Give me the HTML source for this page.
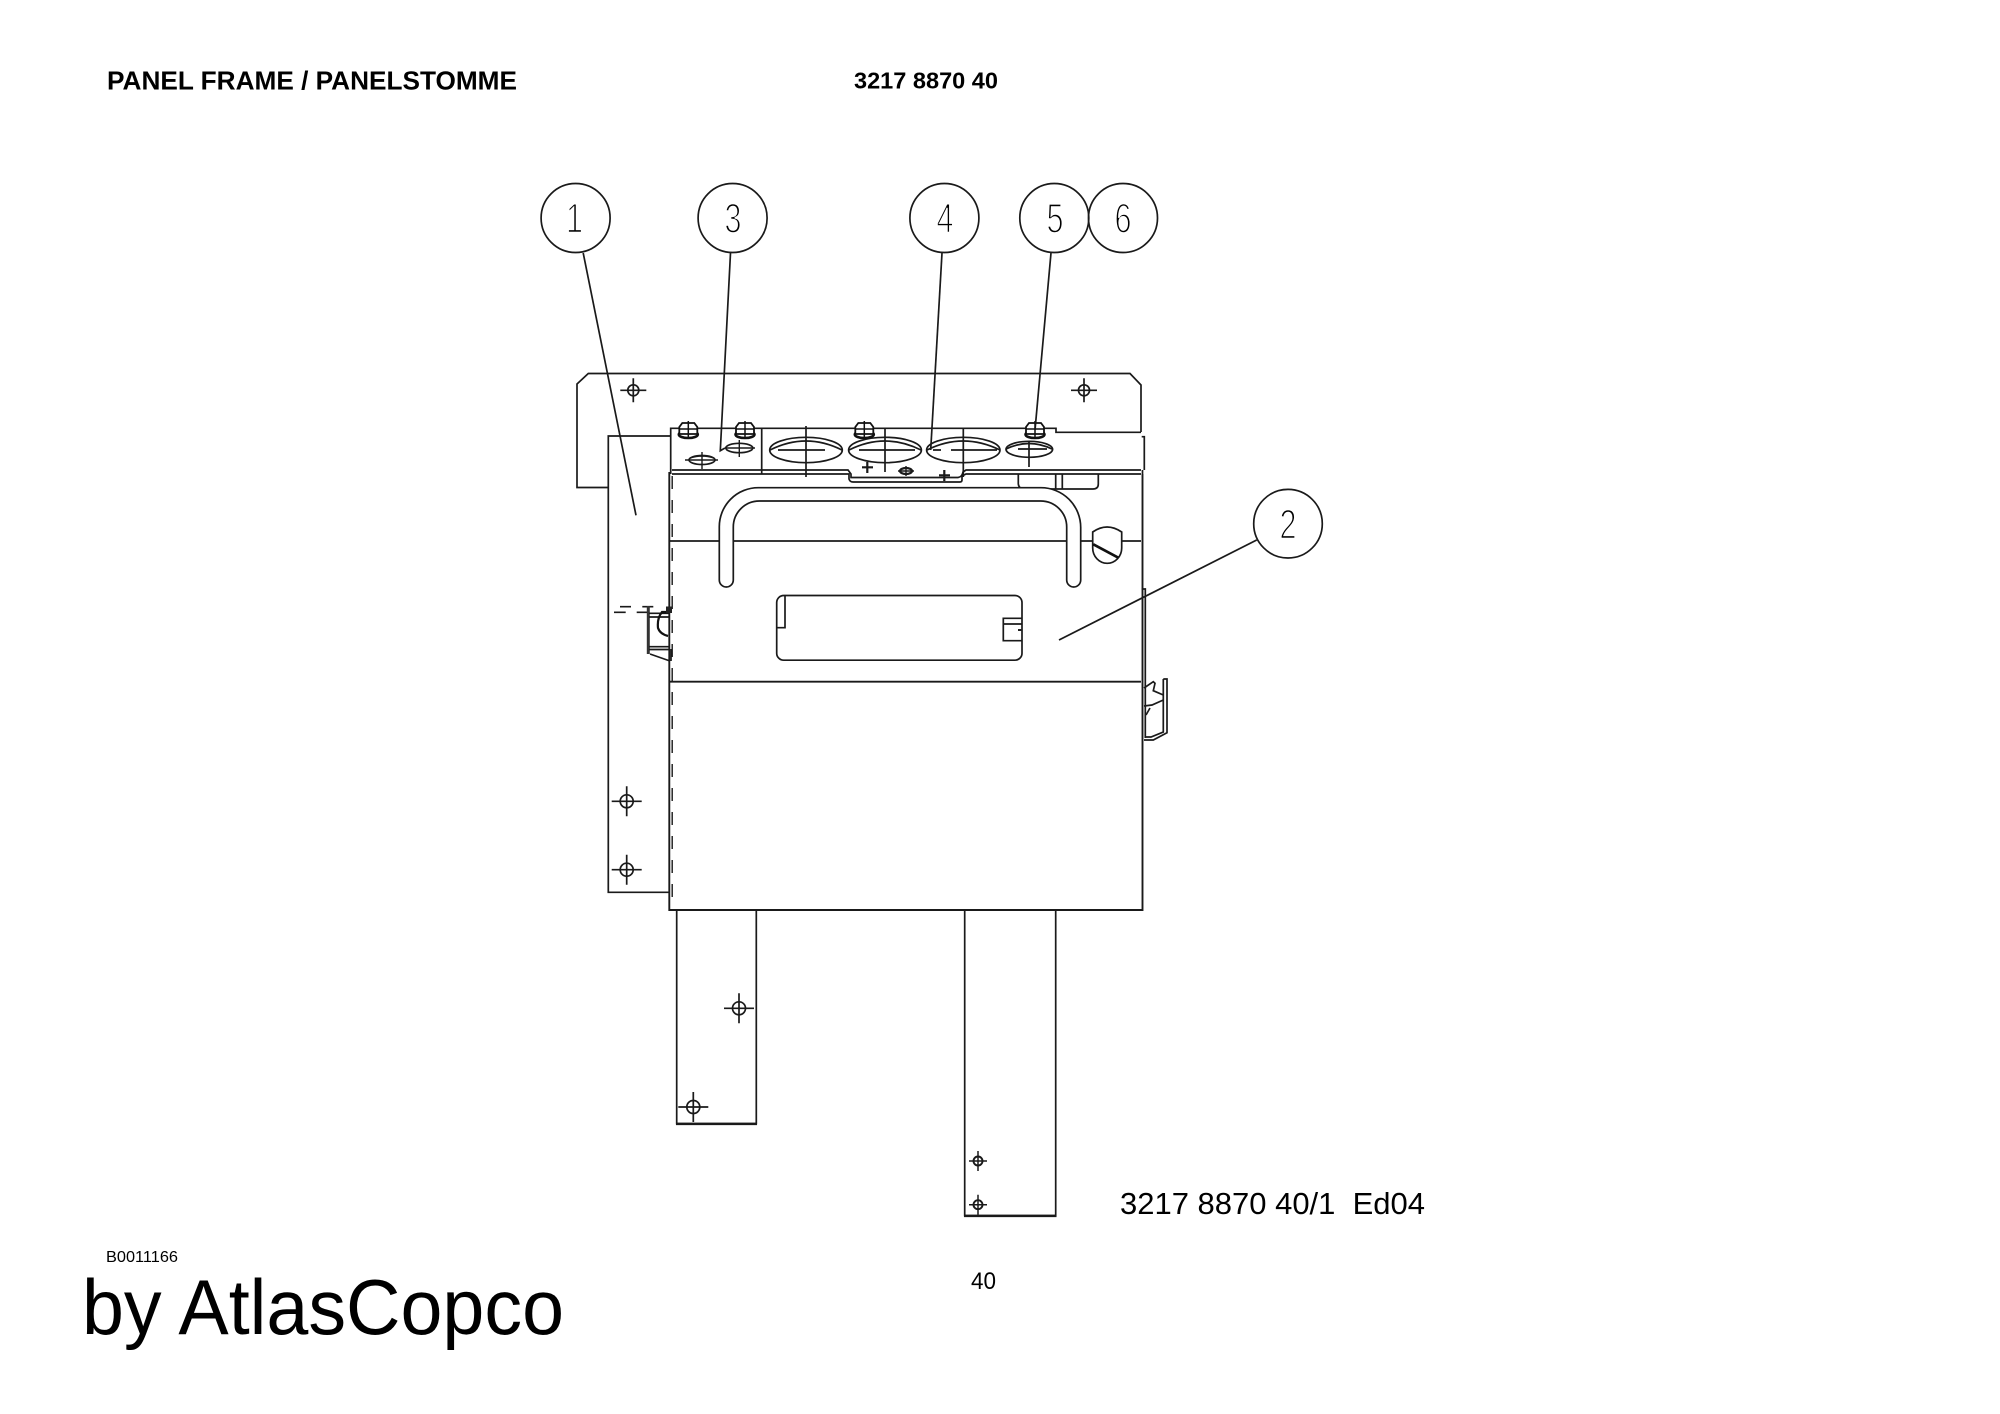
<!DOCTYPE html>
<html lang="en">
<head>
<meta charset="utf-8">
<title>Panel Frame</title>
<style>
html,body{margin:0;padding:0;background:#fff;width:2000px;height:1414px;overflow:hidden}
svg{display:block}
text{font-family:"Liberation Sans",sans-serif;fill:#000}
.l{fill:none;stroke:#1a1a1a;stroke-width:1.7}
.t{fill:none;stroke:#1a1a1a;stroke-width:2.2}
.n{fill:none;stroke:#1a1a1a;stroke-width:1.4}
.d{font-size:42px;stroke:#fff;stroke-width:1.6;text-anchor:middle}
</style>
</head>
<body>
<svg width="2000" height="1414" viewBox="0 0 2000 1414" xmlns="http://www.w3.org/2000/svg">
<defs>
<g id="c1" class="l"><circle r="6.5"/><path d="M-15,0H15M0,-15V15"/></g>
<g id="c2" class="l"><circle r="5.5"/><path d="M-13,0H13M0,-12V12"/></g>
<g id="c3" class="t"><circle r="4.5" stroke-width="1.9"/><path d="M-9,0H9M0,-10V10" stroke-width="1.5"/></g>
<g id="bolt"><ellipse cy="3.5" rx="9.5" ry="3.5" fill="#fff" stroke="#111" stroke-width="2.6"/><path d="M-9,-4L-6,-8H6L9,-4V3H-9Z" fill="#fff" stroke="#111" stroke-width="1.8"/><path d="M-9,-2H9M0,-10V8" stroke="#111" stroke-width="1.5" fill="none"/></g>
</defs>
<rect width="2000" height="1414" fill="#fff"/>

<!-- header text -->
<text x="107" y="89.5" font-size="25.5" font-weight="700" textLength="410" lengthAdjust="spacingAndGlyphs">PANEL FRAME / PANELSTOMME</text>
<text x="854" y="88.5" font-size="23.5" font-weight="700" textLength="144" lengthAdjust="spacingAndGlyphs">3217 8870 40</text>

<!-- back frame -->
<path class="l" d="M608,487.5H577V384L588.3,373.5H1130L1141,385V432"/>
<use href="#c2" x="633.3" y="390.3"/>
<use href="#c2" x="1084" y="390.3"/>

<!-- left bracket -->
<path class="l" d="M671,436H608.3V892.3H669"/>
<use href="#c1" x="626.7" y="801.3"/>
<use href="#c1" x="626.7" y="869.7"/>

<!-- feet -->
<path class="l" d="M676.7,910V1123.5H756.3V910"/>
<path class="t" d="M676,1124H757"/>
<use href="#c1" x="739" y="1008.3"/>
<use href="#c1" x="693.3" y="1107"/>
<path class="l" d="M964.7,910V1215.5H1055.7V910"/>
<path class="t" d="M964,1216H1056.5"/>
<use href="#c3" x="978" y="1161"/>
<use href="#c3" x="978" y="1204.7"/>

<!-- top panel -->
<path class="l" d="M670.7,474V428.3H1056V432.3H1141"/>
<path class="l" d="M761.7,428.3V474"/>
<path class="l" d="M672,470H848L851,474V477.5H958Q962,477 963,472L966,470H1141"/>
<path class="l" d="M672,474H849V479Q850,482 853,482H960Q962,482 962,480V476L966,474H1141"/>
<path class="l" d="M1018.3,474V484Q1019,489 1024,489H1093Q1098.3,489 1098.3,484V474M1055.7,474V489M1062.3,474V489"/>

<!-- small holes -->
<g class="l">
<ellipse cx="702" cy="460" rx="13" ry="4.5"/><path class="n" d="M685,460H718M702,452V469M690,458Q702,454 714,458"/>
<ellipse cx="739.3" cy="448" rx="13.5" ry="4.7"/><path class="n" d="M726,448H755M739.3,440V457"/>
</g>
<!-- large holes -->
<g class="l">
<ellipse cx="806" cy="450" rx="36.3" ry="12.7"/><path d="M770,450Q806,432 842,450M778,450H825"/><path d="M806,426V477"/>
<ellipse cx="885" cy="450" rx="36.4" ry="12.7"/><path d="M849,450Q885,432 921,450M859,450H915"/><path d="M885,428V472"/>
<ellipse cx="963.3" cy="450" rx="36.7" ry="12.7"/><path d="M927,450Q963,432 1000,450M933,450H941M951,450H997"/><path d="M963.3,428V477"/>
<ellipse cx="1029.3" cy="449.3" rx="23.3" ry="8"/><path d="M1006,449Q1029,438 1052,449M1018,449H1047"/><path d="M1029,442V467"/>
</g>
<!-- tab marks -->
<path class="t" d="M862,467.3H873M867.3,462V473M939,475.3H950M944.3,470V481"/>
<ellipse cx="906" cy="471" rx="6" ry="3" class="t"/>
<path class="n" d="M898,471H914M906,466V476"/>

<!-- bolts -->
<use href="#bolt" x="688.3" y="431"/>
<use href="#bolt" x="745" y="431"/>
<use href="#bolt" x="864.3" y="431"/>
<use href="#bolt" x="1035" y="431"/>

<!-- cabinet -->
<path class="t" d="M669.3,472V910H1142.5V474" style="stroke-width:1.9"/>
<path class="l" d="M1142.5,474V470"/>
<path class="l" d="M1141.7,436.7H1144.3V470"/>
<path class="l" d="M1141.7,589H1145.3V738"/>
<path d="M672.2,476V908" fill="none" stroke="#1a1a1a" stroke-width="1.4" stroke-dasharray="13 11"/>
<path class="l" d="M670,541H1141"/>
<path class="t" d="M670,681.7H1141" style="stroke-width:1.9"/>

<!-- handle -->
<path class="l" style="fill:#fff" d="M719.3,580V527A39,39 0 0 1 758.3,487.7H1041A39.7,39.7 0 0 1 1080.7,527.4V580A7,7 0 0 1 1066.7,580V527A26,26 0 0 0 1040.7,501H759.3A26,26 0 0 0 733.3,527V580A7,7 0 0 1 719.3,580Z"/>

<!-- lock -->
<path class="l" style="fill:#fff" d="M1092.7,532Q1107,522 1121.7,532V548A14.5,15.3 0 0 1 1092.7,548Z"/>
<path d="M1093.3,544.3L1118.3,557.7" fill="none" stroke="#111" stroke-width="2.6"/>

<!-- window -->
<rect class="l" x="776.7" y="595.5" width="245.3" height="64.7" rx="7"/>
<path class="l" d="M785,595.5V627.7H776.7"/>
<path class="l" d="M1022,618.3H1003.3V640.7H1022M1003.3,624H1022"/>
<path d="M1018,630H1022" stroke="#222" stroke-width="2"/>

<!-- left hook -->
<path class="l" d="M620,606.7H631M642.3,606.7H653.3M614,612.3H625.7M636.7,612.3H648.3"/>
<path d="M648.3,606V654" fill="none" stroke="#333" stroke-width="3"/>
<path class="l" d="M649,613.3H670M649,617H670M649,646.7H670M649,649.5H670M650,654L670,661M671,649V661"/>
<path d="M668,612H662Q657,618 658,628Q660,634 668,636" fill="none" stroke="#111" stroke-width="2.2"/>
<rect x="666" y="606.5" width="6" height="6.5" fill="#222"/>

<!-- right hook -->
<path class="l" d="M1163.3,679H1167V732.7L1153.3,740H1144M1163.3,679V732L1151,737H1146"/>
<path class="l" d="M1144,688L1153.3,681.7L1155,683.3L1153.3,690.7L1163.3,695M1144,706L1152,705L1163.3,700M1146,715L1150,708"/>

<!-- leader lines -->
<g class="l">
<path d="M583.2,253L636,515.3"/>
<path d="M730.5,253L720.3,450.7L725,448"/>
<path d="M942,253L930.7,450"/>
<path d="M1051,253L1035,430"/>
<path d="M1256.7,540L1059,640"/>
</g>

<!-- balloons -->
<g class="l" style="fill:none">
<circle cx="575.6" cy="218" r="34.5"/>
<circle cx="732.6" cy="218" r="34.5"/>
<circle cx="944.4" cy="218" r="34.5"/>
<circle cx="1054.3" cy="218" r="34.5"/>
<circle cx="1123" cy="218" r="34.5"/>
<circle cx="1288" cy="523.7" r="34.3"/>
</g>
<text class="d" x="574.5" y="232.5" textLength="17" lengthAdjust="spacingAndGlyphs">1</text>
<text class="d" x="733" y="232.5" textLength="17" lengthAdjust="spacingAndGlyphs">3</text>
<text class="d" x="945" y="232.5" textLength="17" lengthAdjust="spacingAndGlyphs">4</text>
<text class="d" x="1055" y="232.5" textLength="17" lengthAdjust="spacingAndGlyphs">5</text>
<text class="d" x="1123" y="232.5" textLength="17" lengthAdjust="spacingAndGlyphs">6</text>
<text class="d" x="1288" y="538.5" textLength="17" lengthAdjust="spacingAndGlyphs">2</text>

<!-- bottom text -->
<text x="1120" y="1214" font-size="30.5" textLength="305" lengthAdjust="spacingAndGlyphs" xml:space="preserve">3217 8870 40/1  Ed04</text>
<text x="106" y="1262" font-size="16" textLength="72" lengthAdjust="spacingAndGlyphs">B0011166</text>
<text x="971" y="1289" font-size="24" textLength="25" lengthAdjust="spacingAndGlyphs">40</text>
<text x="82" y="1334" font-size="78" textLength="482" lengthAdjust="spacingAndGlyphs">by AtlasCopco</text>
</svg>
</body>
</html>
